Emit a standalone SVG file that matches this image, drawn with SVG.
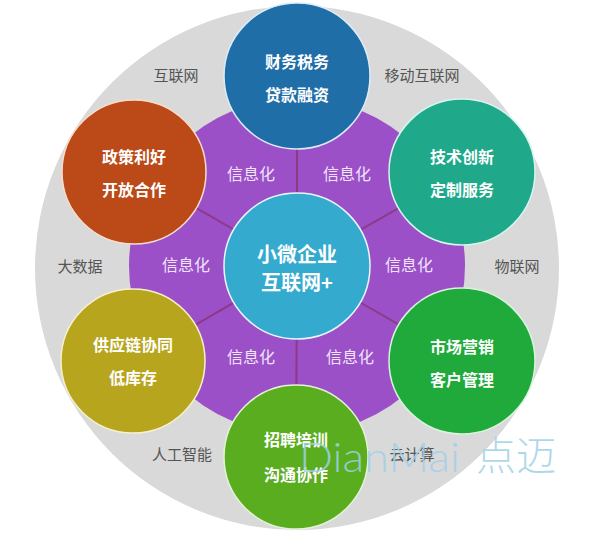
<svg xmlns="http://www.w3.org/2000/svg" width="592" height="534" viewBox="0 0 592 534">
<style>
.node-text{font-family:"Noto Sans CJK SC","Noto Sans",sans-serif;font-weight:bold;font-size:16px;fill:#ffffff;text-anchor:middle}
.center-text{font-family:"Noto Sans CJK SC","Noto Sans",sans-serif;font-weight:bold;font-size:20px;fill:#ffffff;text-anchor:middle}
.info{font-family:"Noto Sans CJK SC","Noto Sans",sans-serif;font-size:16px;fill:#f0e4fa;text-anchor:middle}
.tech{font-family:"Noto Sans CJK SC","Noto Sans",sans-serif;font-size:15px;fill:#555555;text-anchor:middle}
.link{stroke:#8c3a86;stroke-width:2}
.outer{stroke-width:1.5}
</style>
<rect width="592" height="534" fill="#ffffff"/>
<circle cx="297" cy="268" r="262" fill="#d9d9d9"/>
<circle cx="297" cy="266" r="168" fill="#9b50c8"/>
<g id="connectors">
<line class="link" x1="297" y1="266" x2="297" y2="76"/>
<line class="link" x1="297" y1="266" x2="462" y2="172"/>
<line class="link" x1="297" y1="266" x2="462" y2="361"/>
<line class="link" x1="297" y1="266" x2="296" y2="457"/>
<line class="link" x1="297" y1="266" x2="133" y2="361"/>
<line class="link" x1="297" y1="266" x2="134" y2="172"/>
</g>
<g id="labels-info">
<text class="info" x="251" y="180">信息化</text>
<text class="info" x="347" y="180">信息化</text>
<text class="info" x="186" y="271">信息化</text>
<text class="info" x="409" y="271">信息化</text>
<text class="info" x="251" y="363">信息化</text>
<text class="info" x="350" y="363">信息化</text>
</g>
<g id="labels-tech">
<text class="tech" x="176" y="81">互联网</text>
<text class="tech" x="422" y="81">移动互联网</text>
<text class="tech" x="80" y="272">大数据</text>
<text class="tech" x="517" y="272">物联网</text>
<text class="tech" x="182" y="460">人工智能</text>
<text class="tech" x="412" y="460">云计算</text>
</g>
<g id="node-center">
<circle cx="297" cy="266" r="73" fill="#35aacf" stroke="#e8f6fb" stroke-width="1.5"/>
<text class="center-text" x="297" y="262">小微企业</text>
<text class="center-text" x="297" y="290">互联网+</text>
</g>
<g id="node-top">
<circle class="outer" cx="297" cy="76" r="73" fill="#1f6ea8" stroke="#dcebf6"/>
<text class="node-text" x="297" y="68">财务税务</text>
<text class="node-text" x="297" y="101">贷款融资</text>
</g>
<g id="node-top-right">
<circle class="outer" cx="462" cy="172" r="73" fill="#1fa98a" stroke="#d8f4ee"/>
<text class="node-text" x="462" y="163">技术创新</text>
<text class="node-text" x="462" y="196">定制服务</text>
</g>
<g id="node-bottom-right">
<circle class="outer" cx="462" cy="361" r="73" fill="#20aa3b" stroke="#d9f3dd"/>
<text class="node-text" x="462" y="353">市场营销</text>
<text class="node-text" x="462" y="386">客户管理</text>
</g>
<g id="node-bottom">
<circle class="outer" cx="296" cy="457" r="72" fill="#5bad20" stroke="#e3f3d6"/>
<text class="node-text" x="296" y="446">招聘培训</text>
<text class="node-text" x="296" y="481">沟通协作</text>
</g>
<g id="node-bottom-left">
<circle class="outer" cx="133" cy="361" r="72" fill="#b8a51e" stroke="#f6f0cc"/>
<text class="node-text" x="133" y="351">供应链协同</text>
<text class="node-text" x="133" y="384">低库存</text>
</g>
<g id="node-top-left">
<circle class="outer" cx="134" cy="172" r="72" fill="#bb4a18" stroke="#f6ddcc"/>
<text class="node-text" x="134" y="163">政策利好</text>
<text class="node-text" x="134" y="196">开放合作</text>
</g>
<text x="299" y="472" font-family="Lato,'Open Sans',sans-serif" font-weight="300" font-size="42" fill="#9fd0e6" fill-opacity="0.85" textLength="161" lengthAdjust="spacingAndGlyphs">DianMai</text>
<text x="476" y="470" font-family="'Noto Sans CJK SC',sans-serif" font-weight="300" font-size="40" fill="#9fd0e6" fill-opacity="0.85">点迈</text>
</svg>
